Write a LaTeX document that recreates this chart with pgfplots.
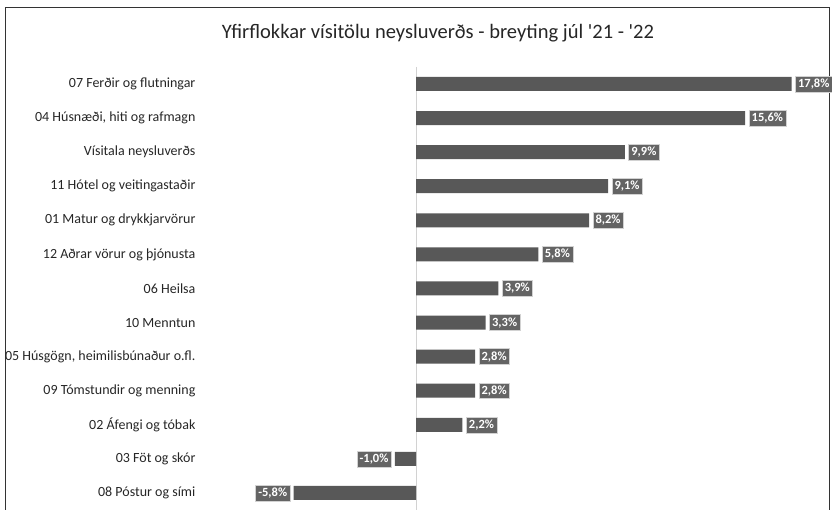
\documentclass[border=0pt]{standalone}
\usepackage{pgfplots}
\pgfplotsset{compat=1.18}
\usepackage{pgfplotstable}
\usepackage{fontspec}
\setmainfont{Carlito}
\newfontfamily\titlefont{Carlito}[Ligatures=TeXOff]
\definecolor{barc}{RGB}{88,88,88}
\definecolor{labc}{RGB}{100,100,100}

\pgfplotstableread{
idx val lab
0 17.8 17,8\%
1 15.6 15,6\%
2 9.9 9,9\%
3 9.1 9,1\%
4 8.2 8,2\%
5 5.8 5,8\%
6 3.9 3,9\%
7 3.3 3,3\%
8 2.8 2,8\%
9 2.8 2,8\%
10 2.2 2,2\%
}\pos
\pgfplotstableread{
idx val lab
11 -1.0 -1,0\%
12 -5.8 -5,8\%
}\negt

\begin{document}
\begin{tikzpicture}
\path[use as bounding box] (0,0) rectangle (832pt,509pt);
\draw[black!80, line width=1pt] (5pt,-1pt) -- (5pt,501pt) -- (829pt,501pt) -- (829pt,-1pt);
\node[font=\titlefont\fontsize{20.5}{24}\selectfont, text=black!85] at (438pt,476pt) {Yfirflokkar vísitölu neysluverðs - breyting júl '21 - '22};
\begin{axis}[
  at={(196.6pt,-1pt)}, anchor=south west,
  scale only axis, width=620.3pt, height=443.1pt,
  xmin=-10.4, xmax=19, ymin=-0.5, ymax=12.5,
  y dir=reverse,
  axis line style={draw=none},
  xtick=\empty,
  ytick={0,...,12},
  major tick length=0pt,
  yticklabels={07 Ferðir og flutningar,{04 Húsnæði, hiti og rafmagn},Vísitala neysluverðs,11 Hótel og veitingastaðir,01 Matur og drykkjarvörur,12 Aðrar vörur og þjónusta,06 Heilsa,10 Menntun,{05 Húsgögn, heimilisbúnaður o.fl.},09 Tómstundir og menning,02 Áfengi og tóbak,03 Föt og skór,08 Póstur og sími},
  yticklabel style={font=\fontsize{14}{16}\selectfont, text=black!85, inner sep=1pt},
  xbar, bar width=14pt, bar shift=0pt,
  point meta=explicit symbolic,
  nodes near coords,
  every node near coord/.append style={fill=labc, draw=gray!35, text=white, font=\bfseries\fontsize{12.5}{14}\selectfont, inner sep=2.8pt},
  clip=false,
]
\draw[gray!35, line width=1pt] (axis cs:0,-0.5) -- (axis cs:0,12.5);
\addplot[fill=barc, draw=none, every node near coord/.append style={anchor=west, xshift=3.5pt}] table[x=val,y=idx,meta=lab] {\pos};
\addplot[fill=barc, draw=none, every node near coord/.append style={anchor=east, xshift=-3.5pt}] table[x=val,y=idx,meta=lab] {\negt};
\end{axis}
\end{tikzpicture}
\end{document}
